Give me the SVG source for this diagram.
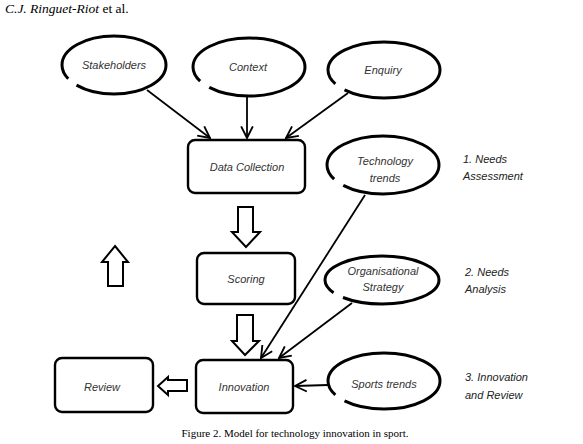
<svg xmlns="http://www.w3.org/2000/svg" width="583" height="444" viewBox="0 0 583 444">
<style>
.bg{fill:#fff}
.ell{fill:none;stroke:#000;stroke-width:3;stroke-dasharray:40 4 56 0}
.box{fill:none;stroke:#000;stroke-width:2.4}
.blk{fill:#fff;stroke:#000;stroke-width:2;stroke-linejoin:miter}
.con{fill:none;stroke:#000;stroke-width:1.8}
.lbl{font-family:"Liberation Sans",Arial,sans-serif;font-style:italic;font-size:11px;fill:#333;text-anchor:middle}
.side{font-family:"Liberation Sans",Arial,sans-serif;font-style:italic;font-size:11px;fill:#222}
.hdr{font-family:"Liberation Serif","Times New Roman",serif;font-size:13.5px;fill:#000}
.cap{font-family:"Liberation Serif","Times New Roman",serif;font-size:11px;fill:#000;text-anchor:middle}
</style>
<defs>
<marker id="arr" markerUnits="userSpaceOnUse" markerWidth="14" markerHeight="14" viewBox="0 0 12 12" refX="11" refY="6" orient="auto">
<path d="M1,1 L11,6 L1,11" fill="none" stroke="#000" stroke-width="1.6"/>
</marker>
</defs>
<rect class="bg" x="0" y="0" width="583" height="444"/>
<text class="hdr" x="5" y="13"><tspan font-style="italic">C.J. Ringuet-Riot</tspan> et al.</text>

<g id="connectors">
<line class="con" x1="147" y1="90" x2="210" y2="138" marker-end="url(#arr)"/>
<line class="con" x1="247" y1="97" x2="247" y2="138" marker-end="url(#arr)"/>
<line class="con" x1="348" y1="93" x2="286" y2="138" marker-end="url(#arr)"/>
<line class="con" x1="365" y1="195" x2="261" y2="358" marker-end="url(#arr)"/>
<line class="con" x1="352" y1="303" x2="279" y2="358" marker-end="url(#arr)"/>
<line class="con" x1="328" y1="385" x2="295" y2="386" marker-end="url(#arr)"/>
<polygon class="blk" points="238,207 253,207 253,232 260,232 246,247 232,232 238,232"/>
<polygon class="blk" points="237,315 253,315 253,341 259,341 245,355 232,341 237,341"/>
<polygon class="blk" points="115,246 128,262 123,262 123,286 108,286 108,262 102,262"/>
<polygon class="blk" points="158,386 168,377 168,380 187,380 187,391 168,391 168,395"/>
</g>

<g id="stakeholders">
<ellipse class="ell" pathLength="100" cx="114" cy="65" rx="52" ry="29"/>
<text class="lbl" x="114" y="69">Stakeholders</text>
</g>
<g id="context">
<ellipse class="ell" pathLength="100" cx="249" cy="67" rx="56" ry="29"/>
<text class="lbl" x="248" y="71">Context</text>
</g>
<g id="enquiry">
<ellipse class="ell" pathLength="100" cx="384" cy="70" rx="56" ry="28"/>
<text class="lbl" x="383" y="74">Enquiry</text>
</g>
<g id="data-collection">
<rect class="box" x="188" y="140" width="117" height="53" rx="7"/>
<text class="lbl" x="247" y="171">Data Collection</text>
</g>
<g id="technology-trends">
<ellipse class="ell" pathLength="100" cx="383" cy="165" rx="56" ry="29"/>
<text class="lbl" x="385" y="165">Technology</text>
<text class="lbl" x="385" y="182">trends</text>
</g>
<g id="scoring">
<rect class="box" x="197" y="253" width="98" height="51" rx="7"/>
<text class="lbl" x="246" y="283">Scoring</text>
</g>
<g id="organisational-strategy">
<ellipse class="ell" pathLength="100" cx="382" cy="280" rx="57" ry="24"/>
<text class="lbl" x="383" y="275">Organisational</text>
<text class="lbl" x="383" y="291">Strategy</text>
</g>
<g id="innovation">
<rect class="box" x="196" y="360" width="97" height="53" rx="7"/>
<text class="lbl" x="244" y="391">Innovation</text>
</g>
<g id="review">
<rect class="box" x="55" y="358" width="98" height="54" rx="7"/>
<text class="lbl" x="102" y="391">Review</text>
</g>
<g id="sports-trends">
<ellipse class="ell" pathLength="100" cx="384" cy="381" rx="56" ry="28"/>
<text class="lbl" x="384" y="388">Sports trends</text>
</g>

<g id="stage-labels">
<text class="side" x="463" y="163">1. Needs</text>
<text class="side" x="463" y="180">Assessment</text>
<text class="side" x="465" y="276">2. Needs</text>
<text class="side" x="465" y="293">Analysis</text>
<text class="side" x="465" y="381">3. Innovation</text>
<text class="side" x="465" y="399">and Review</text>
</g>

<text class="cap" x="295" y="437">Figure 2. Model for technology innovation in sport.</text>
</svg>
